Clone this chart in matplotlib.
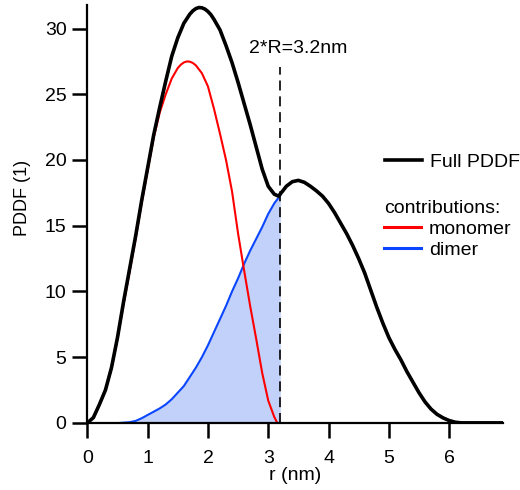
import matplotlib
matplotlib.use("Agg")
import matplotlib.pyplot as plt
from matplotlib.lines import Line2D

plt.rcParams['font.family'] = ['Liberation Sans', 'DejaVu Sans']

# full PDDF (r in nm)
r_full = [0.0, 0.1, 0.2, 0.3, 0.4, 0.5, 0.6, 0.7, 0.8, 0.9, 1.0, 1.1, 1.2, 1.3,
          1.4, 1.5, 1.6, 1.7, 1.75, 1.8, 1.85, 1.9, 1.95, 2.0, 2.05, 2.1, 2.2,
          2.3, 2.4, 2.5, 2.6, 2.7, 2.8, 2.9, 3.0, 3.1, 3.17, 3.25, 3.3, 3.4,
          3.5, 3.6, 3.7, 3.8, 3.9, 4.0, 4.1, 4.2, 4.3, 4.4, 4.5, 4.6, 4.7, 4.8,
          4.9, 5.0, 5.1, 5.2, 5.3, 5.4, 5.5, 5.6, 5.7, 5.8, 5.9, 6.0, 6.1, 6.2,
          6.9]
pddf_full = [0.0, 0.4, 1.4, 2.5, 4.2, 6.5, 9.2, 11.7, 14.2, 16.9, 19.4, 21.9,
             24.0, 26.0, 27.9, 29.3, 30.4, 31.1, 31.35, 31.52, 31.6, 31.58,
             31.48, 31.3, 31.05, 30.7, 29.9, 28.7, 27.4, 25.9, 24.3, 22.7, 21.0,
             19.3, 18.0, 17.4, 17.25, 17.7, 18.0, 18.35, 18.45, 18.3, 18.0,
             17.65, 17.25, 16.7, 16.0, 15.2, 14.4, 13.5, 12.5, 11.4, 10.1, 8.8,
             7.6, 6.5, 5.6, 4.8, 3.9, 3.1, 2.3, 1.6, 1.05, 0.65, 0.38, 0.18,
             0.05, 0.0, 0.0]

# monomer contribution
r_mono = [0.0, 0.1, 0.2, 0.3, 0.4, 0.5, 0.6, 0.7, 0.8, 0.9, 1.0, 1.1, 1.2, 1.3,
          1.4, 1.5, 1.55, 1.6, 1.65, 1.7, 1.75, 1.8, 1.9, 2.0, 2.1, 2.2, 2.3,
          2.4, 2.5, 2.6, 2.7, 2.8, 2.9, 3.0, 3.1, 3.15]
pddf_mono = [0.0, 0.4, 1.4, 2.5, 4.1, 6.4, 9.0, 11.5, 14.0, 16.7, 19.2, 21.7,
             23.6, 25.0, 26.2, 27.0, 27.25, 27.42, 27.5, 27.48, 27.38, 27.2,
             26.6, 25.6, 23.9, 22.0, 20.0, 17.6, 14.4, 11.6, 8.9, 6.4, 3.8,
             1.7, 0.45, 0.0]

# dimer contribution
r_dimer = [0.55, 0.7, 0.8, 0.9, 1.0, 1.1, 1.2, 1.3, 1.4, 1.5, 1.6, 1.7, 1.8,
           1.9, 2.0, 2.1, 2.2, 2.3, 2.4, 2.5, 2.6, 2.7, 2.8, 2.9, 3.0, 3.1, 3.2]
pddf_dimer = [0.0, 0.05, 0.15, 0.35, 0.6, 0.85, 1.1, 1.4, 1.8, 2.3, 2.8, 3.5,
              4.2, 5.0, 5.9, 6.9, 7.9, 8.9, 10.0, 11.0, 12.1, 13.1, 14.0, 14.9,
              15.9, 16.7, 17.3]

two_r = 3.2

fig = plt.figure(figsize=(5.2, 4.9), dpi=100)
ax = fig.add_axes([0.168, 0.137, 0.8, 0.853])

ax.fill_between(r_dimer, pddf_dimer, 0, color='#c2d1f9', lw=0)
ax.plot(r_dimer, pddf_dimer, color='#0a46ff', lw=1.5, solid_joinstyle='round')
ax.plot(r_mono, pddf_mono, color='#ff0000', lw=1.5, solid_joinstyle='round')
ax.plot(r_full, pddf_full, color='black', lw=2.6, solid_joinstyle='round')

ax.plot([two_r, two_r], [0, 27.1], color='black', lw=1.2, ls=(0, (6, 3.5)))
ax.text(two_r + 0.29, 28.5, '2*R=3.2nm', fontsize=14, ha='center', va='center')

ax.set_xlim(0, 6.9)
ax.set_ylim(0, 31.8)
ax.set_xticks(range(0, 7))
ax.set_yticks(range(0, 31, 5))
for side in ('top', 'right'):
    ax.spines[side].set_visible(False)
for side in ('left', 'bottom'):
    ax.spines[side].set_linewidth(1.6)
ax.tick_params(axis='both', direction='out', length=10.5, width=1.8,
               labelsize=14)
ax.tick_params(axis='x', pad=9)
ax.tick_params(axis='y', pad=4.5)

ax.set_xlabel('r (nm)', fontsize=14)
ax.xaxis.set_label_coords(0.5, -0.106)
ax.set_ylabel('PDDF (1)', fontsize=13)
ax.yaxis.set_label_coords(-0.135, 0.538)

leg1 = ax.legend(handles=[Line2D([], [], color='black', lw=2.6)],
                 labels=['Full PDDF'], loc='center left',
                 bbox_to_anchor=(385 / 520, 1 - 162 / 490),
                 bbox_transform=fig.transFigure, frameon=False,
                 fontsize=14, handlelength=1.9, handletextpad=0.4,
                 borderpad=0, borderaxespad=0)
ax.add_artist(leg1)
ax.legend(handles=[Line2D([], [], color='#ff0000', lw=2.2),
                   Line2D([], [], color='#0a46ff', lw=2.2)],
          labels=['monomer', 'dimer'], title='contributions:',
          title_fontsize=14, alignment='left', loc='upper left',
          bbox_to_anchor=(384 / 520, 1 - 200 / 490),
          bbox_transform=fig.transFigure, frameon=False,
          fontsize=14, handlelength=1.9, handletextpad=0.4,
          labelspacing=0.18, borderpad=0, borderaxespad=0)

fig.savefig('out.png', dpi=100)
